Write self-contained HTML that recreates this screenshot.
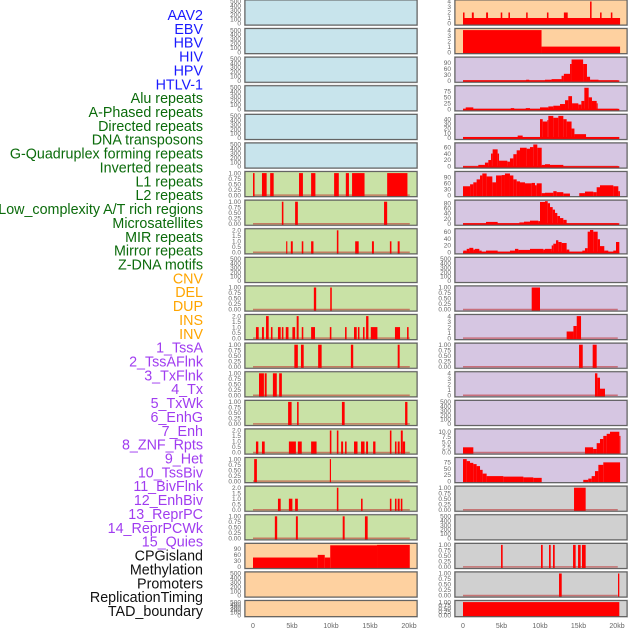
<!DOCTYPE html>
<html><head><meta charset="utf-8">
<style>
html,body{margin:0;padding:0;background:#fff;width:630px;height:630px;overflow:hidden}
svg{display:block}
</style></head>
<body>
<svg id="chart" width="630" height="630" xmlns="http://www.w3.org/2000/svg"></svg>
<script>
// ---------- labels ----------
const labelNames = ["AAV2","EBV","HBV","HIV","HPV","HTLV-1","Alu repeats","A-Phased repeats","Directed repeats","DNA transposons","G-Quadruplex forming repeats","Inverted repeats","L1 repeats","L2 repeats","Low_complexity A/T rich regions","Microsatellites","MIR repeats","Mirror repeats","Z-DNA motifs","CNV","DEL","DUP","INS","INV","1_TssA","2_TssAFlnk","3_TxFlnk","4_Tx","5_TxWk","6_EnhG","7_Enh","8_ZNF_Rpts","9_Het","10_TssBiv","11_BivFlnk","12_EnhBiv","13_ReprPC","14_ReprPCWk","15_Quies","CPGisland","Methylation","Promoters","ReplicationTiming","TAD_boundary"];
const labelGroups = [6,13,5,15,5];
const groupColors = ["#1a1aff","#0b6b0b","#ffa500","#a03cf0","#111111"];

// ---------- x axis ----------
const xTickValues = [0,5,10,15,20];
const xTickLabels = ["0","5kb","10kb","15kb","20kb"];

// ---------- tick label sets ----------
const ticks500 = [0,100,200,300,400,500];
const ticks1 = [0,0.25,0.5,0.75,1];
const ticks1Lab = ["0.00","0.25","0.50","0.75","1.00"];
const ticks2 = [0,0.5,1,1.5,2];
const ticks2Lab = ["0.0","0.5","1.0","1.5","2.0"];
const ticks4 = [0,1,2,3,4];
const ticks90 = [0,30,60,90];
const ticks75 = [0,25,50,75];
const ticks40 = [0,10,20,30,40];
const ticks60 = [0,20,40,60];
const ticks80 = [0,20,40,60,80];
const ticks10 = [0,2.5,5,7.5,10];
const ticks10Lab = ["0.0","2.5","5.0","7.5","10.0"];

// ---------- left column series [startKb, endKb, value] ----------
const segL6 = [[0,0.2,1],[1.15,1.75,1],[2.2,2.65,1],[5.9,6.4,1],[7.45,8,1],[10.4,11,1],[11.9,12.3,1],[12.7,14.3,1],[17.2,19.8,1]];
const segL7 = [[3.7,3.9,1],[5.4,5.75,1],[16.8,17.2,1]];
const segL8 = [[4.25,4.4,1],[4.85,5.1,1],[6.25,6.45,1],[7.45,7.75,1],[10.75,10.95,2],[13.1,13.55,1],[15.25,15.5,1],[17.55,17.75,1],[18.55,18.8,1]];
const segL10 = [[7.8,8.1,1],[9.9,10.1,1]];
const segL11 = [[0.38,0.73,1],[1.15,1.4,1],[1.67,2.01,2],[2.3,2.5,1],[3.2,3.55,1],[3.7,3.9,1],[4.2,4.55,1],[5.05,5.4,1],[5.6,5.85,2],[6.25,6.45,1],[7.45,7.95,1],[9.85,10.05,1],[11.8,12.0,1],[12.95,13.3,1],[13.45,13.65,1],[14.1,14.3,1],[14.5,14.8,2],[15.1,15.95,1],[18.2,18.85,1],[19.75,19.95,1]];
const segL12 = [[5.3,5.75,1],[6.15,6.5,1],[8.35,8.8,1],[12.55,12.85,1],[18.55,18.8,1]];
const segL13 = [[0.77,1.4,1],[1.5,1.75,1],[2.55,3.05,1],[3.35,3.7,1]];
const segL14 = [[4.5,4.95,1],[5.65,5.85,1],[11.4,11.75,1],[19.5,19.8,1]];
const segL15 = [[0.38,0.68,1],[1.15,1.5,1],[4.6,5.5,1],[5.75,6.25,1],[7.45,8.15,1],[9.85,10.05,2],[10.75,10.95,2],[11.3,11.55,1],[11.8,12.0,1],[12.95,13.4,1],[13.85,14.3,1],[14.5,14.75,1],[15.4,15.7,1],[17.55,17.75,2],[18.2,18.4,1],[18.55,18.8,1],[18.95,19.2,2],[19.2,19.5,1]];
const segL16 = [[0.15,0.5,1],[9.85,10.0,1]];
const segL17 = [[3.2,3.55,1],[4.6,5.05,1],[5.4,5.75,1],[10.75,10.95,2],[13.85,14.05,1],[17.55,17.75,1],[18.2,18.4,1],[18.55,18.8,1],[18.95,19.15,1]];
const segL18 = [[2.8,3.1,1],[5.5,5.75,1],[11.5,11.75,1],[14.35,14.7,1]];
const segL19 = [[0,8.3,46],[8.3,9.2,59],[9.2,9.9,46],[9.9,15.9,106],[15.9,20.1,108]];

// ---------- right column series ----------
const segR0 = [[0,20.4,1],[0,0.2,2],[1.15,1.4,2],[3.0,3.25,2],[4.9,5.1,2],[5.9,6.1,2],[8.2,8.4,2],[10.9,11.1,2],[13.1,13.6,2],[17.8,18.0,2],[19.2,19.4,2],[16.5,16.7,4]];
const segR1 = [[0,10.2,4],[10.2,20.4,1]];
const segR2 = [[0,10.65,2],[8.2,8.6,5],[10.65,11.5,5],[11.5,12.8,8],[12.8,13.1,25],[13.1,13.9,35],[13.9,14.1,85],[14.1,15.6,108],[15.6,16.1,85],[16.1,16.5,20],[16.5,17.6,5],[17.6,20.3,2]];
const segR3 = [[0,20.3,2],[0.35,1.34,8],[6.2,6.65,5],[8.15,8.7,5],[10.0,11.08,8],[11.08,11.73,12],[11.73,12.6,15],[12.6,13.25,22],[13.25,13.68,38],[13.68,14.16,55],[14.16,14.98,25],[14.98,15.37,20],[15.37,15.76,35],[15.76,16.32,90],[16.32,16.75,50],[16.75,17.36,35],[17.36,17.49,25]];
const segR4 = [[0,20.3,2],[7.1,7.75,5],[10.0,10.35,40],[10.35,10.95,35],[10.95,11.08,38],[11.08,11.73,47],[11.73,12.38,43],[12.38,13.03,47],[13.03,13.46,40],[13.46,14.1,35],[14.1,14.47,20],[14.47,15.98,8]];
const segR5 = [[0,20.3,1],[1.99,2.85,5],[2.85,3.29,12],[3.29,3.64,20],[3.64,3.85,40],[3.85,4.5,53],[4.5,4.68,40],[4.68,5.76,18],[5.76,6.1,15],[6.1,6.54,25],[6.54,6.97,38],[6.97,7.4,50],[7.4,8.27,58],[8.27,8.7,55],[8.7,9.13,60],[9.13,9.65,68],[9.65,10.22,58],[10.22,10.65,5],[10.65,11.3,7],[11.3,13.03,5]];
const segR6 = [[0,0.92,45],[0.92,1.34,55],[1.34,1.77,65],[1.77,2.21,80],[2.21,2.51,100],[2.51,3.07,110],[3.07,3.81,95],[3.81,4.29,65],[4.29,5.02,100],[5.02,5.45,102],[5.45,6.1,110],[6.1,6.54,100],[6.54,6.97,80],[6.97,7.4,70],[7.4,8.05,65],[8.05,8.92,60],[8.92,9.35,62],[9.35,9.57,50],[9.57,10.22,60],[10.22,10.65,10],[10.65,11.73,12],[11.73,12.16,20],[12.16,13.03,15],[13.03,13.89,8],[15.1,15.84,10],[15.84,16.92,18],[16.92,17.36,15],[17.36,17.79,40],[17.79,19.52,50],[19.52,20.17,45],[20.17,20.38,20]];
const segR7 = [[0,20.3,2],[2.99,4.5,7],[7.32,7.92,5],[7.92,8.7,8],[8.7,9.78,12],[9.78,10.0,10],[10.0,10.65,85],[10.65,11.0,88],[11.0,11.3,80],[11.3,11.65,65],[11.65,11.95,55],[11.95,12.25,42],[12.25,12.6,30],[12.6,13.03,22],[13.03,13.46,15]];
const segR8 = [[0,20.3,2],[0.04,0.48,5],[0.48,0.82,10],[0.82,1.34,13],[1.34,1.56,8],[1.56,2.12,10],[2.12,2.42,5],[2.99,4.5,5],[6.1,6.75,5],[6.75,7.19,10],[7.19,8.7,7],[8.7,10.43,10],[10.43,10.65,8],[10.65,11.52,10],[11.52,11.73,20],[11.73,12.08,25],[12.08,12.38,35],[12.38,12.81,30],[12.81,13.46,27],[13.46,13.81,8],[15.5,15.84,5],[15.84,16.19,12],[16.19,16.49,60],[16.49,16.92,65],[16.92,17.49,60],[17.49,17.79,38],[17.79,18.35,18],[18.35,18.87,5],[19.52,19.87,5],[19.87,20.3,30]];
const segR10 = [[8.92,10.0,1]];
const segR11 = [[13.46,14.34,1.2],[14.34,14.77,2.2],[14.77,15.33,4]];
const segR12 = [[15.07,15.55,1],[16.84,17.36,1]];
const segR13 = [[17.14,17.45,4],[17.45,17.79,3.2],[17.79,18.44,1.2]];
const segR15 = [[0,1.34,2.5],[15.84,16.9,2.5],[16.9,17.36,1.7],[17.36,17.79,4.5],[17.79,18.22,6.5],[18.22,18.66,8],[18.66,19.09,9],[19.09,20.3,10],[20.3,20.45,8]];
const segR16 = [[0,0.48,88],[0.48,0.91,80],[0.91,1.34,73],[1.34,1.77,68],[1.77,2.21,60],[2.21,2.55,45],[2.55,3.07,30],[3.07,5.24,20],[5.24,7.84,18],[7.84,9.13,15],[9.13,10.22,13],[15.62,16.27,5],[16.27,16.71,10],[16.71,17.14,20],[17.14,17.58,40],[17.58,18.22,65],[18.22,20.4,75]];
const segR17 = [[14.42,15.93,1]];
const segR19 = [[4.94,5.15,1],[10.13,10.35,1],[11.17,11.39,1],[11.69,11.91,1],[14.29,14.63,1],[14.94,15.28,1],[15.45,15.93,1]];
const segR20 = [[12.47,12.82,1],[20.13,20.3,1]];
const segR21 = [[0,20.3,1]];

const BLUE="#c8e4ec", GREEN="#c9e2a6", ORANGE="#fed1a0", PURPLE="#d6c6e2", GRAY="#d0d0d0";
// [col,row,bg,ticks,tickLabels,ymax,segments,rug]
const panels = [
 [0,0,BLUE,ticks500,null,500,[],false],[0,1,BLUE,ticks500,null,500,[],false],[0,2,BLUE,ticks500,null,500,[],false],
 [0,3,BLUE,ticks500,null,500,[],false],[0,4,BLUE,ticks500,null,500,[],false],[0,5,BLUE,ticks500,null,500,[],false],
 [0,6,GREEN,ticks1,ticks1Lab,1,segL6,true],[0,7,GREEN,ticks1,ticks1Lab,1,segL7,true],[0,8,GREEN,ticks2,ticks2Lab,2,segL8,true],
 [0,9,GREEN,ticks500,null,500,[],false],[0,10,GREEN,ticks1,ticks1Lab,1,segL10,true],[0,11,GREEN,ticks2,ticks2Lab,2,segL11,true],
 [0,12,GREEN,ticks1,ticks1Lab,1,segL12,true],[0,13,GREEN,ticks1,ticks1Lab,1,segL13,true],[0,14,GREEN,ticks1,ticks1Lab,1,segL14,true],
 [0,15,GREEN,ticks2,ticks2Lab,2,segL15,true],[0,16,GREEN,ticks1,ticks1Lab,1,segL16,true],[0,17,GREEN,ticks2,ticks2Lab,2,segL17,true],
 [0,18,GREEN,ticks1,ticks1Lab,1,segL18,true],[0,19,ORANGE,ticks90,null,108,segL19,false],[0,20,ORANGE,ticks500,null,500,[],false],
 [0,21,ORANGE,ticks500,null,500,[],false],
 [1,0,ORANGE,ticks4,null,4,segR0,false],[1,1,ORANGE,ticks4,null,4,segR1,false],[1,2,PURPLE,ticks90,null,112,segR2,true],
 [1,3,PURPLE,ticks75,null,92,segR3,true],[1,4,PURPLE,ticks40,null,47,segR4,true],[1,5,PURPLE,ticks60,null,68,segR5,true],
 [1,6,PURPLE,ticks90,null,112,segR6,false],[1,7,PURPLE,ticks80,null,86,segR7,true],[1,8,PURPLE,ticks60,null,64,segR8,true],
 [1,9,PURPLE,ticks500,null,500,[],false],[1,10,PURPLE,ticks1,ticks1Lab,1,segR10,true],[1,11,PURPLE,ticks4,null,4,segR11,true],
 [1,12,PURPLE,ticks1,ticks1Lab,1,segR12,true],[1,13,PURPLE,ticks4,null,4,segR13,true],[1,14,PURPLE,ticks500,null,500,[],false],
 [1,15,PURPLE,ticks10,ticks10Lab,10.6,segR15,true],[1,16,PURPLE,ticks75,null,88,segR16,false],[1,17,GRAY,ticks1,ticks1Lab,1,segR17,true],
 [1,18,GRAY,ticks500,null,500,[],false],[1,19,GRAY,ticks1,ticks1Lab,1,segR19,true],[1,20,GRAY,ticks1,ticks1Lab,1,segR20,true],
 [1,21,GRAY,ticks1,ticks1Lab,1,segR21,false]
];

const NS="http://www.w3.org/2000/svg";
const svg=document.getElementById('chart');
function mk(tag,attrs,parent){const e=document.createElementNS(NS,tag);for(const k in attrs)e.setAttribute(k,attrs[k]);(parent||svg).appendChild(e);return e;}

const colFrameX=[245,455], colFrameW=172;
const colX0=[253,463], colPx=[7.8,7.7];
function xScale(col,kb){return colX0[col]+kb*colPx[col];}
function rowTop(r){return r*28.6;}
function rowH(r){return r===21?16:25;}

// labels
let li=0;
labelGroups.forEach((n,gi)=>{
  for(let k=0;k<n;k++){
    const t=mk('text',{x:203,y:15+li*13.86+5,'text-anchor':'end','font-family':'Liberation Sans, sans-serif','font-size':'14.3',fill:groupColors[gi]});
    t.textContent=labelNames[li];
    
    
    li++;
  }
});

panels.forEach(p=>{
  const [col,row,bg,tks,tkl,ymax,segs,rug]=p;
  const top=rowTop(row), h=rowH(row), bottom=top+h;
  const g=mk('g',{});
  
  
  mk('rect',{x:colFrameX[col]-0.5,y:top-0.5,width:colFrameW+1,height:h+1,fill:'none',stroke:'#bbb','stroke-width':1},g);
  mk('rect',{x:colFrameX[col],y:top,width:colFrameW,height:h,fill:bg},g);
  const y0=bottom-1.5, ys=(h-3)/ymax;
  const yS=v=>y0-v*ys;
  if(rug){
    const l=mk('line',{x1:xScale(col,0),x2:xScale(col,20.1),y1:y0,y2:y0,stroke:'rgba(190,40,40,0.55)','stroke-width':1.5},g);
    
    
  }
  segs.forEach(s=>{
    const x1=xScale(col,s[0]), x2=xScale(col,s[1]);
    const yt=Math.max(top,yS(s[2]));
    const r=mk('rect',{x:x1,y:yt,width:Math.max(1,x2-x1),height:bottom-yt,fill:'#ff0000'},g);
    
    
  });
  mk('rect',{x:colFrameX[col],y:top,width:colFrameW,height:h,fill:'none',stroke:'#5a5a5a','stroke-width':1},g);
  tks.forEach((v,i)=>{
    const t=mk('text',{x:colFrameX[col]-4,y:yS(v)+2.2,'text-anchor':'end','font-family':'Liberation Sans, sans-serif','font-size':'6.5',fill:'#666'},g);
    t.textContent=tkl?tkl[i]:String(v);
    
    
  });
});

[0,1].forEach(col=>{
  xTickValues.forEach((v,i)=>{
    const t=mk('text',{x:xScale(col,v),y:628,'text-anchor':'middle','font-family':'Liberation Sans, sans-serif','font-size':'7',fill:'#666'});
    t.textContent=xTickLabels[i];
    
    
  });
});
</script>
</body></html>
